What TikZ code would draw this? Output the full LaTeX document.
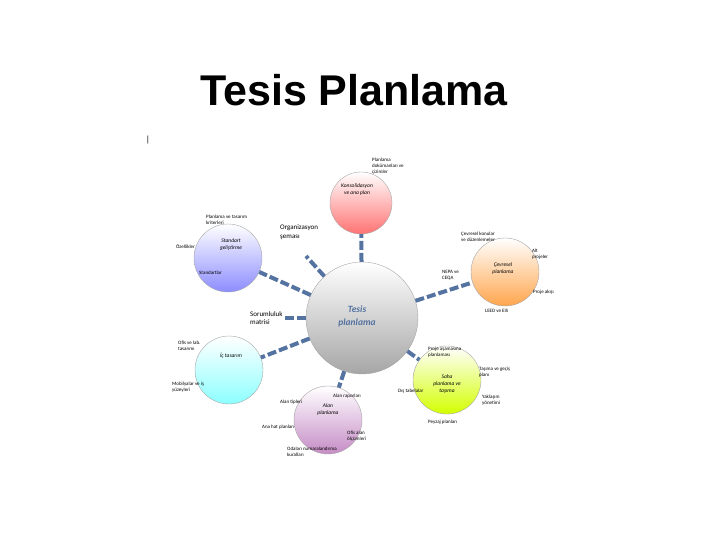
\documentclass[tikz,border=0pt]{standalone}
\usepackage{fontspec}
\setmainfont{Carlito}
\newfontfamily\arialf{Liberation Sans}
\definecolor{connc}{RGB}{85,115,160}
\begin{document}
\begin{tikzpicture}[x=1pt,y=-1pt,
 ball/.style={circle,draw=gray!70,thin,minimum size=#1},
 conn/.style={draw=connc,line width=4pt,dash pattern=on 9pt off 3pt},
 lab/.style={font=\fontsize{5}{6}\selectfont,align=left,inner sep=0pt},
 mid/.style={font=\fontsize{7}{8.5}\selectfont,align=left,inner sep=0pt},
 inlab/.style={font=\fontsize{5.5}{7}\selectfont\itshape,align=center,inner sep=0pt}]
\useasboundingbox (0,0) rectangle (720,540);
\node[font=\arialf\bfseries\fontsize{43}{48}\selectfont] (title) at (354,90) {Tesis Planlama};
\node[font=\fontsize{9}{9}\selectfont] (bar) at (148,140) {|};
% circles
\node[ball=112pt,top color=white,bottom color=gray!70] (c) at (362,318) {};
\node[font=\fontsize{9.5}{13}\selectfont\bfseries\itshape,text=connc,align=center] (ct) at (357,316) {Tesis\\planlama};
\node[ball=62pt,top color=white,bottom color=red!55] (pk) at (361,203) {};
\node[ball=68pt,top color=white,bottom color=blue!45] (st) at (228,258) {};
\node[ball=68pt,top color=white,bottom color=orange!70] (cv) at (505,272) {};
\node[ball=68pt,top color=white,bottom color=cyan!45] (ic) at (229,370) {};
\node[ball=68pt,top color=white,bottom color=violet!45] (al) at (328,420) {};
\node[ball=68pt,top color=white,bottom color=lime!70!yellow] (sa) at (447,380) {};
% connectors
\coordinate (org) at (306,256);
\coordinate (sor) at (284,318);
\draw[conn] (c) -- (pk);
\draw[conn] (c) -- (st);
\draw[conn] (c) -- (org);
\draw[conn] (c) -- (sor);
\draw[conn] (c) -- (cv);
\draw[conn] (c) -- (ic);
\draw[conn] (c) -- (al);
\draw[conn] (c) -- (sa);
% inner labels
\node[inlab] (pkt) at (357,190) {Konsolidasyon\\ve ana plan};
\node[inlab] (stt) at (231,245) {Standart\\geliştirme};
\node[inlab] (cvt) at (503,269) {Çevresel\\planlama};
\node[inlab] (ict) at (231,356) {İç tasarım};
\node[inlab] (alt) at (328,410) {Alan\\planlama};
\node[inlab] (sat) at (447,384) {Saha\\planlama ve\\taşıma};
% middle labels
\node[mid,anchor=west] (orgt) at (280,232) {Organizasyon\\şeması};
\node[mid,anchor=west] (sort) at (250,318) {Sorumluluk\\matrisi};
% small labels
\node[lab,anchor=west] at (372,166) {Planlama\\dokümanları ve\\çizimler};
\node[lab,anchor=west] at (206,220) {Planlama ve tasarım\\kriterleri};
\node[lab,anchor=west] at (176,247) {Özellikler};
\node[lab,anchor=west] at (199,273) {Standartlar};
\node[lab,anchor=west] at (461,237) {Çevresel konular\\ve düzenlemeler};
\node[lab,anchor=west] at (532,254) {Alt\\projeler};
\node[lab,anchor=west] at (442,275) {NEPA ve\\CEQA};
\node[lab,anchor=west] at (533,292) {Proje akışı};
\node[lab,anchor=west] at (485,311) {LEED ve EIS};
\node[lab,anchor=west] at (178,346) {Ofis ve lab.\\tasarımı};
\node[lab,anchor=west] at (172,387) {Mobilyalar ve iş\\yüzeyleri};
\node[lab,anchor=west] at (333,396) {Alan raporları};
\node[lab,anchor=west] at (280,402) {Alan tipleri};
\node[lab,anchor=west] at (262,427) {Ana hat planları};
\node[lab,anchor=west] at (347,436) {Ofis alan\\ölçümleri};
\node[lab,anchor=west] at (287,452) {Odaları numaralandırma\\kuralları};
\node[lab,anchor=west] at (428,352) {Proje aşamasına\\planlaması};
\node[lab,anchor=west] at (479,372) {Taşıma ve geçiş\\planı};
\node[lab,anchor=west] at (398,391) {Dış tabelalar};
\node[lab,anchor=west] at (482,400) {Yaklaşım\\yönetimi};
\node[lab,anchor=west] at (428,422) {Peyzaj planları};
\end{tikzpicture}
\end{document}
